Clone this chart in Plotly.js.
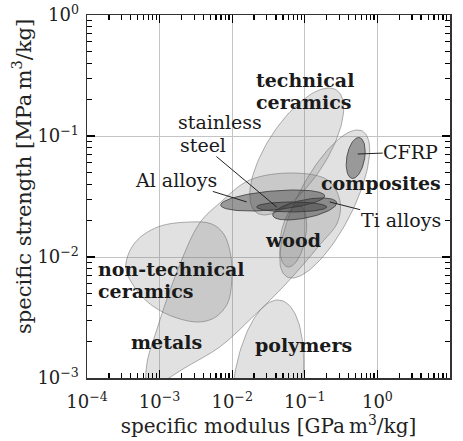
<!DOCTYPE html>
<html><head><meta charset="utf-8">
<script src="https://cdn.plot.ly/plotly-3.0.1.min.js"></script>
<style>html,body{margin:0;padding:0;background:#fff}#chart{width:463px;height:441px}</style>
</head><body><div id="chart"></div>
<script>
// ---- data (log10 of specific modulus [GPa m3/kg] and specific strength [MPa m3/kg]) ----
// Free-form regions (boundary points)
const metalsLogModulus  = [-3.164,-3.178,-3.040,-2.751,-2.448,-2.172,-1.759,-1.167,-0.685,-0.519,-0.547,-0.795,-1.249,-1.718,-2.172,-2.654,-2.999];
const metalsLogStrength = [-3.116,-2.893,-2.603,-2.107,-1.719,-1.554,-1.364,-1.306,-1.364,-1.529,-1.711,-1.901,-2.215,-2.496,-2.744,-2.917,-3.050];
const nonTechCeramicsLogModulus  = [-3.466,-3.343,-3.026,-2.585,-2.282,-2.117,-2.021,-2.007,-2.062,-2.227,-2.448,-2.764,-3.095,-3.329];
const nonTechCeramicsLogStrength = [-2.083,-1.884,-1.752,-1.711,-1.727,-1.810,-1.983,-2.207,-2.380,-2.496,-2.537,-2.504,-2.405,-2.264];
// Elliptical regions: extent in modulus and strength, plus strength where modulus is greatest (sets the tilt)
const ellipseNames       = ['polymers','technical ceramics','composites','wood','Al alloys','Ti alloys','stainless steel','CFRP'];
const ellLogModulusMin   = [-2.007,-1.759,-1.346,-1.346,-2.158,-1.442,-1.663,-0.430];
const ellLogModulusMax   = [-1.015,-0.464,-0.106,-0.974,-0.726,-0.561,-0.698,-0.168];
const ellLogStrengthMin  = [-3.760,-1.653,-2.174,-2.083,-1.620,-1.694,-1.628,-1.351];
const ellLogStrengthMax  = [-2.355,-0.603,-0.950,-1.570,-1.446,-1.512,-1.545,-1.012];
const ellLogStrengthAtMaxModulus = [-2.860,-0.769,-1.116,-1.736,-1.496,-1.554,-1.587,-1.128];
// Axis ticks
const xTickVals  = [1e-4,1e-3,1e-2,1e-1,1e0,1e1];
const xTickText  = ['10<sup>−4</sup>','10<sup>−3</sup>','10<sup>−2</sup>','10<sup>−1</sup>','10<sup>0</sup>','10<sup>1</sup>'];
const yTickVals  = [1e-3,1e-2,1e-1,1e0];
const yTickText  = ['10<sup>−3</sup>','10<sup>−2</sup>','10<sup>−1</sup>','10<sup>0</sup>'];

// ---- styles ----
const FONT = '"DejaVu Serif", "Liberation Serif", serif';
const lightFill = 'rgba(120,120,120,0.22)', lightLine = 'rgba(110,110,110,0.55)';
const darkFill = 'rgba(55,55,55,0.42)', darkLine = 'rgba(50,50,50,0.75)';
const darkSet = new Set(['Al alloys','Ti alloys','stainless steel','CFRP']);

const pow10 = v => Math.pow(10, v);
function closed(a){ return a.concat([a[0]]); }

const traces = [];
function blob(name, lx, ly){
  traces.push({type:'scatter', mode:'lines', name, x: closed(lx).map(pow10), y: closed(ly).map(pow10),
    fill:'toself', fillcolor: lightFill, line:{color: lightLine, width:1, shape:'spline', smoothing:1},
    hoverinfo:'skip', showlegend:false});
}
blob('metals', metalsLogModulus, metalsLogStrength);
blob('non-technical ceramics', nonTechCeramicsLogModulus, nonTechCeramicsLogStrength);

ellipseNames.forEach((name, i) => {
  const cx = (ellLogModulusMin[i] + ellLogModulusMax[i]) / 2, A = (ellLogModulusMax[i] - ellLogModulusMin[i]) / 2;
  const cy = (ellLogStrengthMin[i] + ellLogStrengthMax[i]) / 2, B = (ellLogStrengthMax[i] - ellLogStrengthMin[i]) / 2;
  const phi = Math.acos(Math.max(-1, Math.min(1, (ellLogStrengthAtMaxModulus[i] - cy) / B)));
  const xs = [], ys = [];
  for (let k = 0; k <= 120; k++) {
    const t = 2 * Math.PI * k / 120;
    xs.push(pow10(cx + A * Math.cos(t)));
    ys.push(pow10(cy + B * Math.cos(t - phi)));
  }
  const dark = darkSet.has(name);
  traces.push({type:'scatter', mode:'lines', name, x: xs, y: ys, fill:'toself',
    fillcolor: dark ? darkFill : lightFill, line:{color: dark ? darkLine : lightLine, width:1},
    hoverinfo:'skip', showlegend:false});
});

// minor tick positions (2..9 within each decade)
function minorTicks(lo, hi){ const v=[]; for(let d=lo; d<hi; d++) for(let m=2; m<=9; m++) v.push(m*Math.pow(10,d)); return v; }

const bold = {family: FONT, size: 19, color: '#1a1a1a', weight: 'bold'};
const reg = {family: FONT, size: 19, color: '#1a1a1a'};
// label positions in log units (x: 72.6 px/decade from 87.3 px; y: 121 px/decade from 15 px)
const annotations = [
  {x:-1.690, y:-0.541, text:'<b>technical</b>', xanchor:'left', font:bold},
  {x:-1.690, y:-0.723, text:'<b>ceramics</b>', xanchor:'left', font:bold},
  {x:0.045, y:-1.388, text:'<b>composites</b>', font:bold},
  {x:-1.167, y:-1.860, text:'<b>wood</b>', font:bold},
  {x:-3.866, y:-2.099, text:'<b>non-technical</b>', xanchor:'left', font:bold},
  {x:-3.866, y:-2.281, text:'<b>ceramics</b>', xanchor:'left', font:bold},
  {x:-2.902, y:-2.702, text:'<b>metals</b>', font:bold},
  {x:-1.015, y:-2.727, text:'<b>polymers</b>', font:bold},
  {x:-2.764, y:-0.888, text:'stainless', xanchor:'left', font:reg},
  {x:-1.387, y:-1.587, text:'steel', font:reg, showarrow:true, ax:-74, ay:-62},
  {x:-1.800, y:-1.545, text:'Al alloys', font:reg, showarrow:true, ax:-71, ay:-22},
  {x:-0.271, y:-1.149, text:'CFRP', font:reg, showarrow:true, ax:53, ay:-2},
  {x:-0.657, y:-1.545, text:'Ti alloys', font:reg, showarrow:true, ax:71, ay:18},
].map(a => Object.assign({xref:'x', yref:'y', showarrow:false, arrowhead:0, arrowwidth:1, arrowcolor:'#222', borderpad:0}, a));
annotations.push({xref:'paper', yref:'paper', x:-0.179, y:0.554, xanchor:'center', yanchor:'middle', textangle:-90, showarrow:false,
  text:'specific strength [MPa\u2009m<sup>3</sup>/kg]', font:{family:FONT, size:21, color:'#222'}});

const axisCommon = {
  type:'log', tickmode:'array', ticks:'inside', ticklen:8, tickwidth:1.3, tickcolor:'#000',
  showline:true, linecolor:'#333', linewidth:1.5, mirror:'ticks',
  showgrid:true, gridcolor:'#c4c4c4', gridwidth:1, zeroline:false,
  tickfont:{family: FONT, size:18, color:'#222'}
};
const layout = {
  width:463, height:441, margin:{l:87, r:13, t:15, b:63},
  paper_bgcolor:'#fff', plot_bgcolor:'#fff', showlegend:false,
  xaxis: Object.assign({}, axisCommon, {range:[-4,1], tickvals:xTickVals, ticktext:xTickText, ticklabelstandoff:7,
    minor:{tickmode:'array', tickvals:minorTicks(-4,1), ticks:'inside', ticklen:5, tickwidth:1.3, tickcolor:'#000', showgrid:false},
    title:{text:'specific modulus [GPa\u2009m<sup>3</sup>/kg]', font:{family:FONT, size:20, color:'#222'}, standoff:8}}),
  yaxis: Object.assign({}, axisCommon, {range:[-3,0], tickvals:yTickVals, ticktext:yTickText, ticklabelstandoff:3,
    minor:{tickmode:'array', tickvals:minorTicks(-3,0), ticks:'inside', ticklen:5, tickwidth:1.3, tickcolor:'#000', showgrid:false}}),
  annotations
};
Plotly.newPlot('chart', traces, layout, {staticPlot:true, displayModeBar:false});
</script></body></html>
